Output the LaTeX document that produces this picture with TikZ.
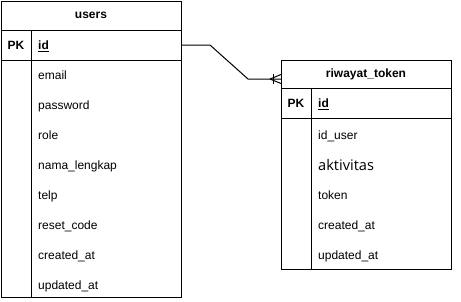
\documentclass[tikz,border=0pt]{standalone}
\usepackage{fontspec}
\setmainfont{Liberation Sans}
\newfontfamily\aktfont{Open Sans}
\usepackage{tikz}

\tikzset{
  tbl/.style={draw=black, line width=1pt},
  hdr/.style={inner sep=0pt, font=\fontsize{12}{14}\selectfont\bfseries},
  fld/.style={anchor=west, inner sep=0pt, text height=8.6pt, text depth=0pt,
    font=\fontsize{12}{14}\selectfont},
  conn/.style={draw=black, line width=1pt},
}

\begin{document}
\begin{tikzpicture}[x=1pt, y=-1pt]
    \useasboundingbox[fill=white] (0,0) rectangle (461,301);

    % users
    \draw[tbl] (1,1) rectangle (181,297);
    \draw[tbl] (1,30) -- (181,30);
    \draw[tbl] (1,60) -- (181,60);
    \draw[tbl] (31,30) -- (31,297);
    \node[hdr] (users) at (91,15.5) {users};
    \node[hdr] (users-pk) at (16,45) {PK};
    \node[fld, font=\fontsize{12}{14}\selectfont\bfseries] (users-id) at (38,45) {\underline{id}};
    \node[fld] (users-email) at (38,75) {email};
    \node[fld] (users-password) at (38,105) {password};
    \node[fld] (users-role) at (38,135) {role};
    \node[fld] (users-nama) at (38,165) {nama\_lengkap};
    \node[fld] (users-telp) at (38,195) {telp};
    \node[fld] (users-reset) at (38,225) {reset\_code};
    \node[fld] (users-created) at (38,255) {created\_at};
    \node[fld] (users-updated) at (38,285) {updated\_at};

    % riwayat_token
    \draw[tbl] (281,60) rectangle (451,269.5);
    \draw[tbl] (281,88) -- (451,88);
    \draw[tbl] (281,118) -- (451,118);
    \draw[tbl] (311,88) -- (311,269.5);
    \node[hdr] (token) at (366,74.5) {riwayat\_token};
    \node[hdr] (token-pk) at (296,103) {PK};
    \node[fld, font=\fontsize{12}{14}\selectfont\bfseries] (token-id) at (318,103) {\underline{id}};
    \node[fld] (token-iduser) at (318,135) {id\_user};
    \node[fld, text height=11.4pt, font=\fontsize{14.6}{17}\aktfont] (token-aktivitas) at (318,165) {aktivitas};
    \node[fld] (token-token) at (318,195) {token};
    \node[fld] (token-created) at (318,225) {created\_at};
    \node[fld] (token-updated) at (318,255) {updated\_at};

    % relation users.id -> riwayat_token (one to many)
    \coordinate (users-out) at (181,45);
    \coordinate (token-in) at (281,79);
    \draw[conn] (users-out) -- ++(29,0) -- ([xshift=-33pt]token-in) -- (token-in);
    \draw[conn] ([xshift=-11pt]token-in) -- ([yshift=-4.5pt]token-in);
    \draw[conn] ([xshift=-11pt]token-in) -- ([yshift=4.5pt]token-in);
    \draw[conn] ([xshift=-7.5pt, yshift=-5pt]token-in) -- ([xshift=-7.5pt, yshift=5pt]token-in);
\end{tikzpicture}
\end{document}
